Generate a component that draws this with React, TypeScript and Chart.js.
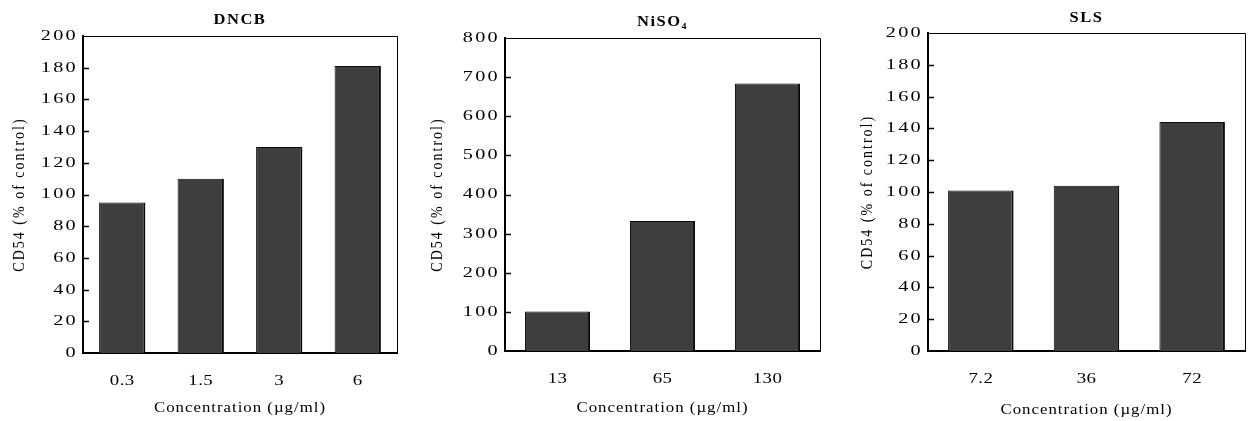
import React, { useEffect, useRef } from 'react';
import { Chart, registerables } from 'chart.js';

Chart.register(...registerables);

const dncbLabels = ['0.3', '1.5', '3', '6'];
const dncbValues = [95, 110, 130, 181];
const niso4Labels = ['13', '65', '130'];
const niso4Values = [101, 332, 684];
const slsLabels = ['7.2', '36', '72'];
const slsValues = [101, 104, 144];
const panelTitles = ['DNCB', 'NiSO₄', 'SLS'];
const yMaxes = [200, 800, 200];
const ySteps = [20, 100, 20];
const yAxisTitle = 'CD54 (% of control)';
const xAxisTitle = 'Concentration (µg/ml)';

const H = 421;
const FONT = '"Liberation Serif", "Times New Roman", serif';

type Layout = {
  left: number; width: number; plotL: number; plotR: number; plotT: number; plotB: number;
  titleY: number; yTitleX: number; xTitleY: number; barPct: number;
};

const layouts: Layout[] = [
  { left: 0, width: 418, plotL: 83, plotR: 397, plotT: 36, plotB: 353, titleY: 20, yTitleX: 20, xTitleY: 408, barPct: 0.59 },
  { left: 420, width: 418, plotL: 85, plotR: 400, plotT: 38, plotB: 351, titleY: 22, yTitleX: 18, xTitleY: 408, barPct: 0.62 },
  { left: 840, width: 412, plotL: 88, plotR: 405, plotT: 33, plotB: 351, titleY: 18, yTitleX: 28, xTitleY: 410, barPct: 0.62 },
];

// text styling (horizontal stretch + letter spacing) keyed by the font in use
function patchCtx(ctx: any) {
  if (ctx.__patched) return;
  ctx.__patched = true;
  const orig = ctx.fillText;
  ctx.fillText = function (text: string, x: number, y: number) {
    const f: string = this.font;
    const m = /([\d.]+)px/.exec(f);
    const size = m ? parseFloat(m[1]) : 14;
    const bold = /bold|700/.test(f);
    const t = this.getTransform();
    const rotated = Math.abs(t.b) > 1e-6;
    let sx = 1;
    let ls = 0;
    if (bold) { sx = 1.1; ls = 1.5; }
    else if (size === 15) { sx = 1.35; ls = 2.3; }
    else if (size === 14.5) { sx = 1.3; ls = 0.4; }
    else if (rotated) { sx = 1.2; ls = 2; }
    else { sx = 1.2; ls = 1; }
    this.save();
    this.translate(x, y);
    if (rotated) this.scale(1, sx); else this.scale(sx, 1);
    this.letterSpacing = (rotated ? ls : ls / sx) + 'px';
    orig.call(this, text, 0, 0);
    this.restore();
  };
}

const framePlugin = {
  id: 'frameAndText',
  beforeInit(chart: any) { patchCtx(chart.ctx); },
  afterDraw(chart: any) {
    const { ctx, chartArea: a, scales } = chart;
    ctx.save();
    ctx.strokeStyle = '#000';
    ctx.lineWidth = 1;
    ctx.beginPath();
    ctx.moveTo(a.left, a.top + 0.5);
    ctx.lineTo(a.right + 0.5, a.top + 0.5);
    ctx.lineTo(a.right + 0.5, a.bottom);
    ctx.stroke();
    const y = scales.y;
    ctx.beginPath();
    y.ticks.forEach((_t: any, i: number) => {
      if (i === 0 || i === y.ticks.length - 1) return;
      const py = Math.round(y.getPixelForTick(i)) + 0.5;
      ctx.moveTo(a.left, py);
      ctx.lineTo(a.left + 6, py);
    });
    ctx.lineWidth = 1.5;
    ctx.stroke();
    ctx.restore();
  },
};

function Panel({ idx, labels, values }: { idx: number; labels: string[]; values: number[] }) {
  const ref = useRef<HTMLCanvasElement>(null);
  const p = layouts[idx];
  useEffect(() => {
    if (!ref.current) return;
    const titleFont = { family: FONT, size: 14, lineHeight: 1.2 };
    const xTickFont = { family: FONT, size: 14.5, lineHeight: 1.2 };
    const yTickFont = { family: FONT, size: 15, lineHeight: 1.2 };
    const chart = new Chart(ref.current, {
      type: 'bar',
      data: {
        labels,
        datasets: [{
          data: values,
          backgroundColor: '#3e3e3e',
          borderColor: '#0a0a0a',
          borderWidth: { top: 1, right: 2, left: 1, bottom: 0 },
          borderSkipped: 'bottom',
          barPercentage: p.barPct,
          categoryPercentage: 1,
        }],
      },
      options: {
        animation: false,
        responsive: false,
        devicePixelRatio: 1,
        layout: { padding: { left: 0, right: p.width - p.plotR, top: 0, bottom: 0 } },
        plugins: {
          legend: { display: false },
          tooltip: { enabled: false },
          title: {
            display: true,
            text: panelTitles[idx],
            fullSize: false,
            color: '#000',
            font: { family: FONT, size: 15, weight: 'bold', lineHeight: 1.2 },
            padding: { top: p.titleY - 9, bottom: p.plotT - p.titleY - 9 },
          },
        },
        scales: {
          x: {
            grid: { display: false, drawTicks: false },
            border: { display: true, color: '#000', width: 2 },
            ticks: { color: '#000', font: xTickFont, padding: 19 },
            title: {
              display: true, text: xAxisTitle, color: '#000', font: titleFont,
              padding: { top: 0, bottom: H - p.xTitleY - 8.4 },
            },
            afterFit: (s: any) => { s.height = H - p.plotB; },
          },
          y: {
            min: 0,
            max: yMaxes[idx],
            grid: { display: false, drawTicks: false },
            border: { display: true, color: '#000', width: 2 },
            ticks: { stepSize: ySteps[idx], color: '#000', font: yTickFont, padding: 5 },
            title: {
              display: true, text: yAxisTitle, color: '#000', font: titleFont,
              padding: { top: p.yTitleX - 8.4, bottom: 0 },
            },
            afterFit: (s: any) => { s.width = p.plotL; },
          },
        },
      },
      plugins: [framePlugin],
    } as any);
    return () => chart.destroy();
  }, []);
  return (
    <canvas
      ref={ref}
      width={p.width}
      height={H}
      style={{ position: 'absolute', left: p.left, top: 0, width: p.width, height: H }}
    />
  );
}

export default function App() {
  return (
    <div style={{ position: 'absolute', left: 0, top: 0, width: 1252, height: H, background: '#fff' }}>
      <Panel idx={0} labels={dncbLabels} values={dncbValues} />
      <Panel idx={1} labels={niso4Labels} values={niso4Values} />
      <Panel idx={2} labels={slsLabels} values={slsValues} />
    </div>
  );
}
